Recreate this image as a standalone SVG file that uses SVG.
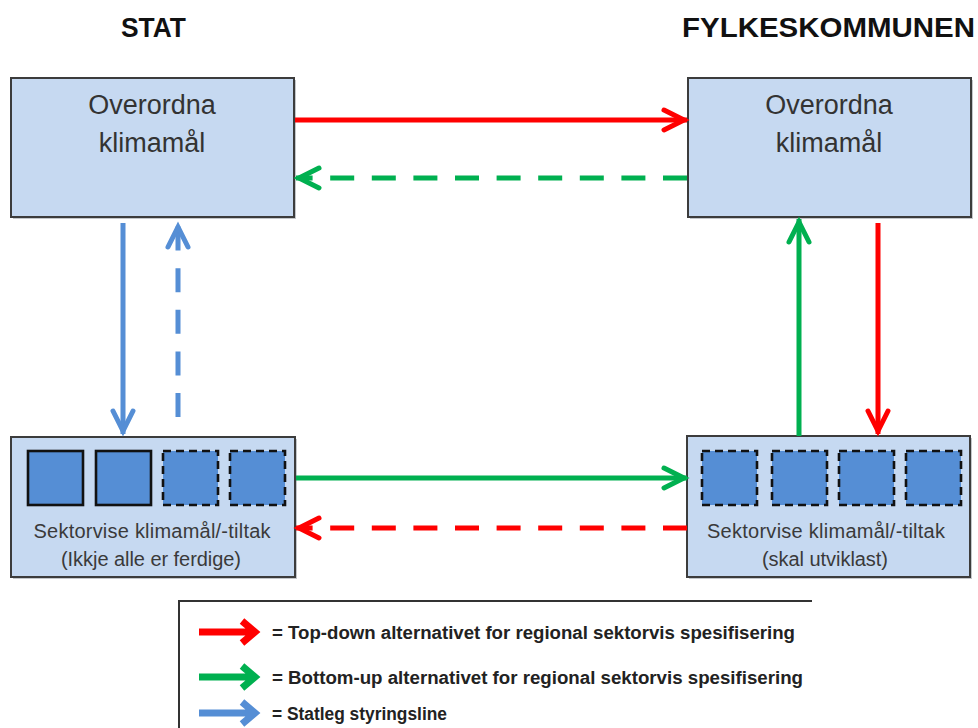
<svg xmlns="http://www.w3.org/2000/svg" width="978" height="728" viewBox="0 0 978 728">
  <style>
    .box { fill: #c6d9f1; stroke: #3c3c3c; stroke-width: 2; }
    .shadow { fill: #8a8f96; opacity: 0.5; }
    .sq { fill: #558ed5; stroke: #111; stroke-width: 2.6; }
    .sq.dash { stroke-dasharray: 8 5; }
    .hdr { font-family: "Liberation Sans", Arial, sans-serif; font-weight: bold; font-size: 28px; fill: #111; }
    .big { font-family: "Liberation Sans", Arial, sans-serif; font-size: 27px; fill: #333; text-anchor: middle; }
    .small { font-family: "Liberation Sans", Arial, sans-serif; font-size: 20px; fill: #3a3a3a; text-anchor: middle; }
    .leg { font-family: "Liberation Sans", Arial, sans-serif; font-weight: bold; font-size: 18px; fill: #222; }
    .ln { fill: none; stroke-width: 5; }
    .dashed { stroke-dasharray: 24 17.6; }
    .red { stroke: #ff0000; }
    .green { stroke: #00b050; }
    .blue { stroke: #558ed5; }
    .legarrow { fill: none; stroke-width: 7; stroke-linejoin: miter; }
  </style>
  <defs>
    <marker id="head-red" markerUnits="userSpaceOnUse" viewBox="-26 -14 32 28" refX="0" refY="0" markerWidth="32" markerHeight="28" orient="auto" overflow="visible">
      <path d="M-23,-10 L-3,0 L-23,10" fill="none" stroke="#ff0000" stroke-width="5" stroke-linecap="round"/>
    </marker>
    <marker id="head-green" markerUnits="userSpaceOnUse" viewBox="-26 -14 32 28" refX="0" refY="0" markerWidth="32" markerHeight="28" orient="auto" overflow="visible">
      <path d="M-23,-10 L-3,0 L-23,10" fill="none" stroke="#00b050" stroke-width="5" stroke-linecap="round"/>
    </marker>
    <marker id="head-blue" markerUnits="userSpaceOnUse" viewBox="-26 -14 32 28" refX="0" refY="0" markerWidth="32" markerHeight="28" orient="auto" overflow="visible">
      <path d="M-23,-10 L-3,0 L-23,10" fill="none" stroke="#558ed5" stroke-width="5" stroke-linecap="round"/>
    </marker>
  </defs>

  <rect width="978" height="728" fill="#ffffff"/>

  <!-- column headers -->
  <text class="hdr" x="121" y="37" textLength="65" lengthAdjust="spacingAndGlyphs">STAT</text>
  <text class="hdr" x="682" y="37" textLength="293" lengthAdjust="spacingAndGlyphs">FYLKESKOMMUNEN</text>

  <!-- state: overall climate goals -->
  <g id="stat-overordna">
    <rect class="shadow" x="13" y="80" width="283" height="139"/>
    <rect class="box" x="11" y="78" width="283" height="139"/>
    <text class="big" x="152" y="114">Overordna</text>
    <text class="big" x="152" y="152">klimamål</text>
  </g>

  <!-- county: overall climate goals -->
  <g id="fylke-overordna">
    <rect class="shadow" x="690" y="80" width="283" height="139"/>
    <rect class="box" x="688" y="78" width="283" height="139"/>
    <text class="big" x="829" y="114">Overordna</text>
    <text class="big" x="829" y="152">klimamål</text>
  </g>

  <!-- state: sector goals -->
  <g id="stat-sektor">
    <rect class="shadow" x="13" y="439" width="284" height="140"/>
    <rect class="box" x="11" y="437" width="284" height="140"/>
    <rect class="sq" x="28" y="451" width="55" height="54"/>
    <rect class="sq" x="96" y="451" width="55" height="54"/>
    <rect class="sq dash" x="163" y="451" width="55" height="54"/>
    <rect class="sq dash" x="230" y="451" width="55" height="54"/>
    <text class="small" x="152" y="538" textLength="237">Sektorvise klimamål/-tiltak</text>
    <text class="small" x="151" y="566" textLength="180">(Ikkje alle er ferdige)</text>
  </g>

  <!-- county: sector goals -->
  <g id="fylke-sektor">
    <rect class="shadow" x="689" y="438" width="283" height="141"/>
    <rect class="box" x="687" y="436" width="283" height="141"/>
    <rect class="sq dash" x="702" y="451" width="55" height="54"/>
    <rect class="sq dash" x="772" y="451" width="55" height="54"/>
    <rect class="sq dash" x="839" y="451" width="55" height="54"/>
    <rect class="sq dash" x="906" y="451" width="55" height="54"/>
    <text class="small" x="826" y="538" textLength="238">Sektorvise klimamål/-tiltak</text>
    <text class="small" x="825" y="566" textLength="126">(skal utviklast)</text>
  </g>

  <!-- connectors -->
  <g id="connectors">
    <path class="ln red" d="M295,120 H687" marker-end="url(#head-red)"/>
    <path class="ln green dashed" d="M687,178 H296" marker-end="url(#head-green)"/>
    <path class="ln blue" d="M123,223 V434" marker-end="url(#head-blue)"/>
    <path class="ln blue dashed" d="M178,417 V224" marker-end="url(#head-blue)"/>
    <path class="ln green" d="M799,436 V219" marker-end="url(#head-green)"/>
    <path class="ln red" d="M878,223 V434" marker-end="url(#head-red)"/>
    <path class="ln green" d="M296,478 H687" marker-end="url(#head-green)"/>
    <path class="ln red dashed" d="M687,528 H296" marker-end="url(#head-red)"/>
  </g>

  <!-- legend -->
  <g id="legend">
    <path d="M812,601 H179 V728" fill="none" stroke="#333" stroke-width="2"/>
    <path class="legarrow red" d="M199,632 H252 M242,621 L255,632 L242,643"/>
    <path class="legarrow green" d="M199,677 H252 M242,666 L255,677 L242,688"/>
    <path class="legarrow blue" d="M199,713 H252 M242,702 L255,713 L242,724"/>
    <text class="leg" x="272" y="639" textLength="523" lengthAdjust="spacingAndGlyphs">= Top-down alternativet for regional sektorvis spesifisering</text>
    <text class="leg" x="272" y="684" textLength="531" lengthAdjust="spacingAndGlyphs">= Bottom-up alternativet for regional sektorvis spesifisering</text>
    <text class="leg" x="272" y="720" textLength="175" lengthAdjust="spacingAndGlyphs">= Statleg styringsline</text>
  </g>
</svg>
